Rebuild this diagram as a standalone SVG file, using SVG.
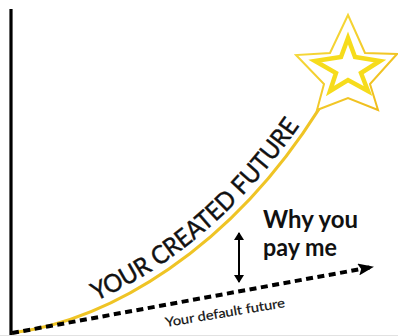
<svg xmlns="http://www.w3.org/2000/svg" width="398" height="336" viewBox="0 0 398 336">
<style>
.lbl{font-family:Lato,"Open Sans","Liberation Sans",sans-serif;fill:#111}
.big{font-size:25px;stroke:#111;stroke-width:0.45}
.why{font-size:24px;font-weight:bold}
.small{font-size:13px;stroke:#111;stroke-width:0.2}
.dash{fill:none;stroke:#000;stroke-width:4;stroke-dasharray:7 4.5}
</style>
<defs>
<marker id="dflt" viewBox="0 0 16 12" refX="14" refY="6" markerWidth="16" markerHeight="12" markerUnits="userSpaceOnUse" orient="auto">
<path d="M0,0 L16,6 L0,12 L3,6 Z" fill="#000"/>
</marker>
<marker id="ah" viewBox="0 0 8 10" refX="7" refY="5" markerWidth="8" markerHeight="10" markerUnits="userSpaceOnUse" orient="auto-start-reverse">
<path d="M0,0 L8,5 L0,10 Z" fill="#000"/>
</marker>
<linearGradient id="sg" x1="0" y1="0" x2="1" y2="1">
<stop offset="0" stop-color="#f7e040"/>
<stop offset="1" stop-color="#eeb818"/>
</linearGradient>
<path id="tp" d="M8,327 C105,313 225,244 314,104"/>
</defs>
<rect width="398" height="336" fill="#fff"/>
<line x1="0" y1="335.5" x2="398" y2="335.5" stroke="#e2e2e2" stroke-width="1.2"/>
<g id="axis">
<line x1="11" y1="9" x2="11" y2="335" stroke="#000" stroke-width="3.2"/>
</g>
<g id="connectors">
<path id="created-curve" d="M12,333 C110,320 230,250 319,109" fill="none" stroke="#efc425" stroke-width="3.2"/>
<path id="default-line" class="dash" d="M12,333 L372,267" marker-end="url(#dflt)"/>
<line id="gap-arrow" x1="239" y1="233" x2="239" y2="282" stroke="#000" stroke-width="2" marker-start="url(#ah)" marker-end="url(#ah)"/>
</g>
<g id="star">
<polygon points="348,15 365,53 397,54 370,84 378,110 348,98 317,110 324,84 296,55 330,53" fill="#fff" stroke="url(#sg)" stroke-width="2"/>
<polygon points="348,38 355,57 380,61 361,73 368,91 348,80 330,91 336,73 315,61 341,57" fill="#fff" stroke="#f6dc1c" stroke-width="4.5" stroke-linejoin="miter"/>
</g>
<g id="created-label">
<text class="lbl big"><textPath href="#tp" startOffset="92" textLength="272" lengthAdjust="spacingAndGlyphs">YOUR CREATED FUTURE</textPath></text>
</g>
<g id="why-label">
<text class="lbl why" x="263" y="228" textLength="95" lengthAdjust="spacingAndGlyphs">Why you</text>
<text class="lbl why" x="263" y="256" textLength="74" lengthAdjust="spacingAndGlyphs">pay me</text>
</g>
<g id="default-label">
<text class="lbl small" transform="translate(166,327) rotate(-9.5)" textLength="121" lengthAdjust="spacingAndGlyphs">Your default future</text>
</g>
</svg>
